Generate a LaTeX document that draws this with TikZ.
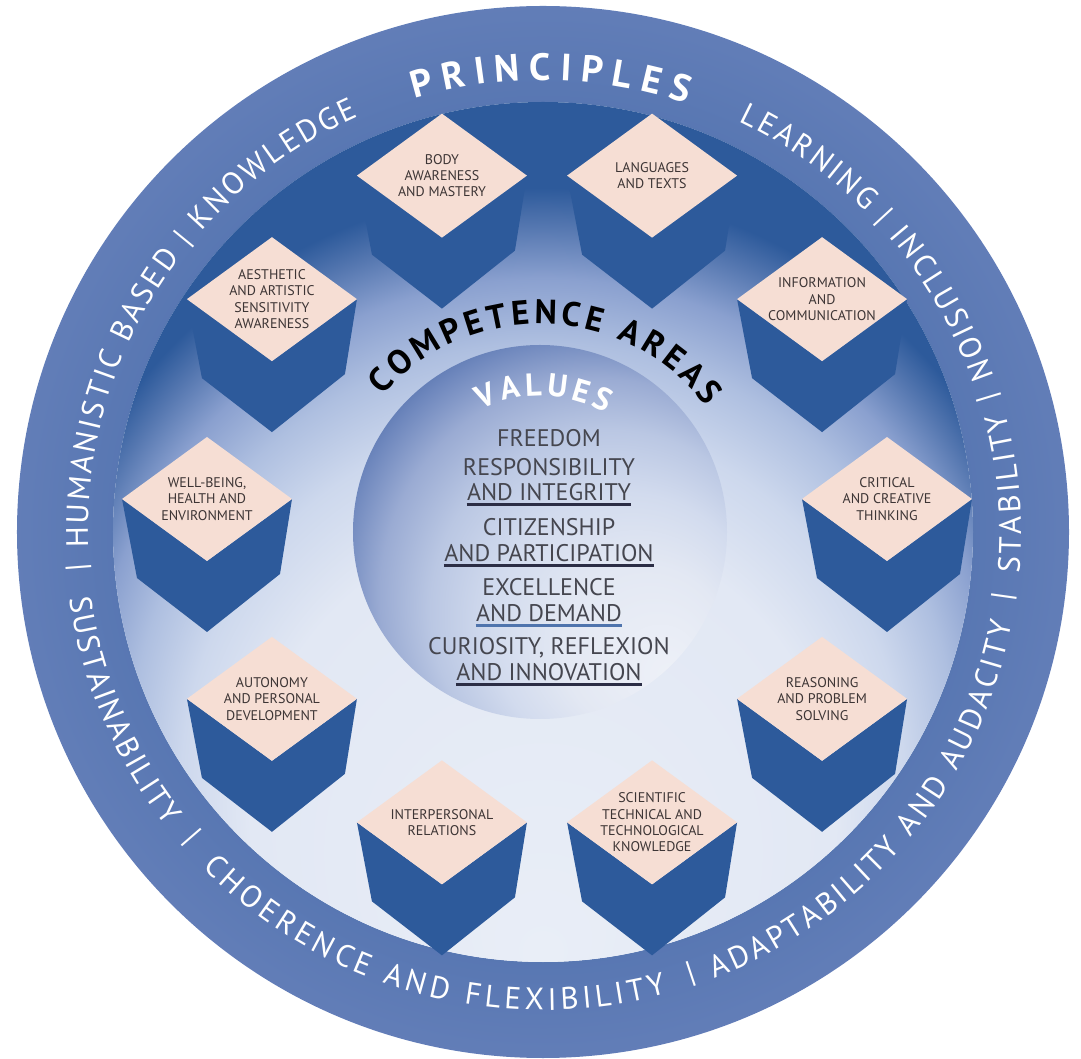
\documentclass[tikz,border=0pt]{standalone}
\usepackage{fontspec}
\setmainfont{PT Sans}
\usetikzlibrary{calc,decorations.text}

\definecolor{cubeblue}{HTML}{2D5A9B}
\definecolor{topface}{HTML}{F6DED4}
\definecolor{valuetext}{HTML}{45464F}
\definecolor{labeltext}{HTML}{3D3535}
\definecolor{linedark}{HTML}{2B2D45}
\definecolor{lineblue}{HTML}{4F74AD}
\definecolor{bandin}{HTML}{6A83BC}
\definecolor{bandlight}{HTML}{93A5D1}
\definecolor{bandmid}{HTML}{7990C4}
\definecolor{bandout}{HTML}{43659F}
\definecolor{bandedge}{HTML}{264D8A}
\definecolor{areapale}{HTML}{E9EEF7}
\definecolor{areasoft}{HTML}{E2E8F4}
\definecolor{arealight}{HTML}{CDD8ED}
\definecolor{areamid}{HTML}{AEBFE0}
\definecolor{areadeep}{HTML}{8AA0CF}
\definecolor{areadark}{HTML}{5577B0}
\definecolor{valpale}{HTML}{EEF1F8}
\definecolor{valsoft}{HTML}{E3E8F3}
\definecolor{vallight}{HTML}{D2DBEE}
\definecolor{valmid}{HTML}{BAC7E3}
\definecolor{valdeep}{HTML}{9AABD3}
\definecolor{valdark}{HTML}{6E87BD}
\definecolor{valrim}{HTML}{4D6BA8}
\definecolor{valedge}{HTML}{44629F}

% radial shadings: the path's radius sits at 35.36bp
\pgfdeclareradialshading{bandshade}{\pgfpoint{0bp}{0bp}}{%
  color(0bp)=(cubeblue); color(28.85bp)=(bandin); color(30.76bp)=(bandlight);
  color(32.53bp)=(bandmid); color(34.29bp)=(bandout); color(35.36bp)=(bandedge);
  color(50bp)=(bandedge)}
\pgfdeclareradialshading{areashade}{\pgfpoint{0bp}{-25bp}}{%
  color(0bp)=(areapale); color(17bp)=(areasoft); color(21bp)=(arealight);
  color(24bp)=(areamid); color(26.5bp)=(areadeep); color(28.5bp)=(areadark);
  color(30bp)=(cubeblue); color(50bp)=(cubeblue)}
\pgfdeclareradialshading{valshade}{\pgfpoint{18bp}{-20bp}}{%
  color(0bp)=(valpale); color(11bp)=(valsoft); color(18bp)=(vallight);
  color(24bp)=(valmid); color(29bp)=(valdeep); color(33bp)=(valdark);
  color(36bp)=(valrim); color(50bp)=(valedge)}

\newcommand\ringfont{\fontsize{15.5}{16}\selectfont}
\newcommand\prinfont{\fontsize{19}{20}\selectfont\bfseries}
\newcommand\compfont{\fontsize{17}{18}\selectfont\bfseries}
\newcommand\valfont{\fontsize{16}{17}\selectfont\bfseries}

\tikzset{
  ringtext/.style={decorate, decoration={text along path,
    text format delimiters={[}{]}, text align={fit to path},
    text color=white, text={#1}}},
  areatext/.style={decorate, decoration={text along path,
    text format delimiters={[}{]}, text align={fit to path},
    text color=black, text={#1}}}
}

\begin{document}
\begin{tikzpicture}[x=0.5pt,y=0.5pt,
  cubeside/.style={fill=cubeblue},
  cubetop/.style={fill=topface},
  cubelabel/.style={font=\fontsize{7}{8.2}\selectfont, text=labeltext,
    align=center, inner sep=0pt},
  valtext/.style={font=\fontsize{12}{14}\selectfont, text=valuetext,
    inner sep=0pt, anchor=base},
  uline/.style={line width=1.5pt},
  ringbar/.style={font=\ringfont, text=white, inner sep=0pt}]
\useasboundingbox (-543,-527) rectangle (538,532);

% principles ring and the area disc
\shade[shading=bandshade, even odd rule] (0,0) circle[radius=526] (0,0) circle[radius=430];
\shade[shading=areashade] (0,0) circle[radius=430];
\shade[shading=valshade] (-3,0) circle[radius=187];

% competence areas
\foreach \ang/\nm/\txt in {
  108/body/{BODY\\AWARENESS\\AND MASTERY},
  72/lang/{LANGUAGES\\AND TEXTS},
  36/info/{INFORMATION\\AND\\COMMUNICATION},
  0/crit/{CRITICAL\\AND CREATIVE\\THINKING},
  -36/reas/{REASONING\\AND PROBLEM\\SOLVING},
  -72/sci/{SCIENTIFIC\\TECHNICAL AND\\TECHNOLOGICAL\\KNOWLEDGE},
  -108/inter/{INTERPERSONAL\\RELATIONS},
  -144/auto/{AUTONOMY\\AND PERSONAL\\DEVELOPMENT},
  180/well/{WELL-BEING,\\HEALTH AND\\ENVIRONMENT},
  144/aest/{AESTHETIC\\AND ARTISTIC\\SENSITIVITY\\AWARENESS}}
{
  \coordinate (\nm) at ($(4,33)+(\ang:340)$);
  \fill[cubeside] ($(\nm)+(-85,0)$) -- ($(\nm)+(-70,-79)$) -- ($(\nm)+(0,-133)$)
    -- ($(\nm)+(73,-75)$) -- ($(\nm)+(85,0)$) -- ($(\nm)+(0,-62)$) -- cycle;
  \fill[cubetop] ($(\nm)+(-85,0)$) -- ($(\nm)+(0,62)$) -- ($(\nm)+(85,0)$)
    -- ($(\nm)+(0,-62)$) -- cycle;
  \node[cubelabel] (\nm-txt) at (\nm) {\txt};
}

% principles
\path[ringtext={[\ringfont]HUMANISTIC BASED | KNOWLEDGE}] (182:455) arc[start angle=182, end angle=114, radius=455];
\path[ringtext={[\prinfont]PRINCIPLES}] (106.5:452) arc[start angle=106.5, end angle=71.5, radius=452];
\path[ringtext={[\ringfont]LEARNING | INCLUSION}] (64.5:455) arc[start angle=64.5, end angle=19, radius=455];
\path[ringtext={[\ringfont]SUSTAINABILITY}] (188:478) arc[start angle=188, end angle=218, radius=478];
\path[ringtext={[\ringfont]CHOERENCE AND FLEXIBILITY}] (224.5:478) arc[start angle=224.5, end angle=285, radius=478];
\path[ringtext={[\ringfont]ADAPTABILITY AND AUDACITY}] (291:478) arc[start angle=291, end angle=349, radius=478];
\path[ringtext={[\ringfont]STABILITY}] (355:478) arc[start angle=355, end angle=374.5, radius=478];
\foreach \a [count=\i] in {184.4,221,288.5,352,16.8}
  \node[ringbar, rotate=\a+90] (bar\i) at (\a:466) {|};

% areas and values titles
\begin{scope}[shift={(-3,0)}]
\path[areatext={[\compfont]COMPETENCE AREAS}] (139:208) arc[start angle=139, end angle=37, radius=208];
\path[ringtext={[\valfont]VALUES}] (116:136) arc[start angle=116, end angle=61, radius=136];
\end{scope}

% values
\node[valtext] (free) at (6,85.6) {FREEDOM};
\node[valtext] (resp) at (6,56.6) {RESPONSIBILITY};
\node[valtext] (integ) at (6,31.6) {AND INTEGRITY};
\node[valtext] (citiz) at (6,-3.4) {CITIZENSHIP};
\node[valtext] (partic) at (6,-29.4) {AND PARTICIPATION};
\node[valtext] (excel) at (6,-63.4) {EXCELLENCE};
\node[valtext] (demand) at (6,-89.4) {AND DEMAND};
\node[valtext] (curio) at (6,-122.4) {CURIOSITY, REFLEXION};
\node[valtext] (innov) at (6,-148.4) {AND INNOVATION};

\draw[uline, linedark] ([yshift=-2pt]integ.base west) -- ([yshift=-2pt]integ.base east);
\draw[uline, linedark] ([yshift=-2pt]partic.base west) -- ([yshift=-2pt]partic.base east);
\draw[uline, lineblue] ([yshift=-2pt]demand.base west) -- ([yshift=-2pt]demand.base east);
\draw[uline, linedark] ([yshift=-2pt]innov.base west) -- ([yshift=-2pt]innov.base east);
\end{tikzpicture}
\end{document}
